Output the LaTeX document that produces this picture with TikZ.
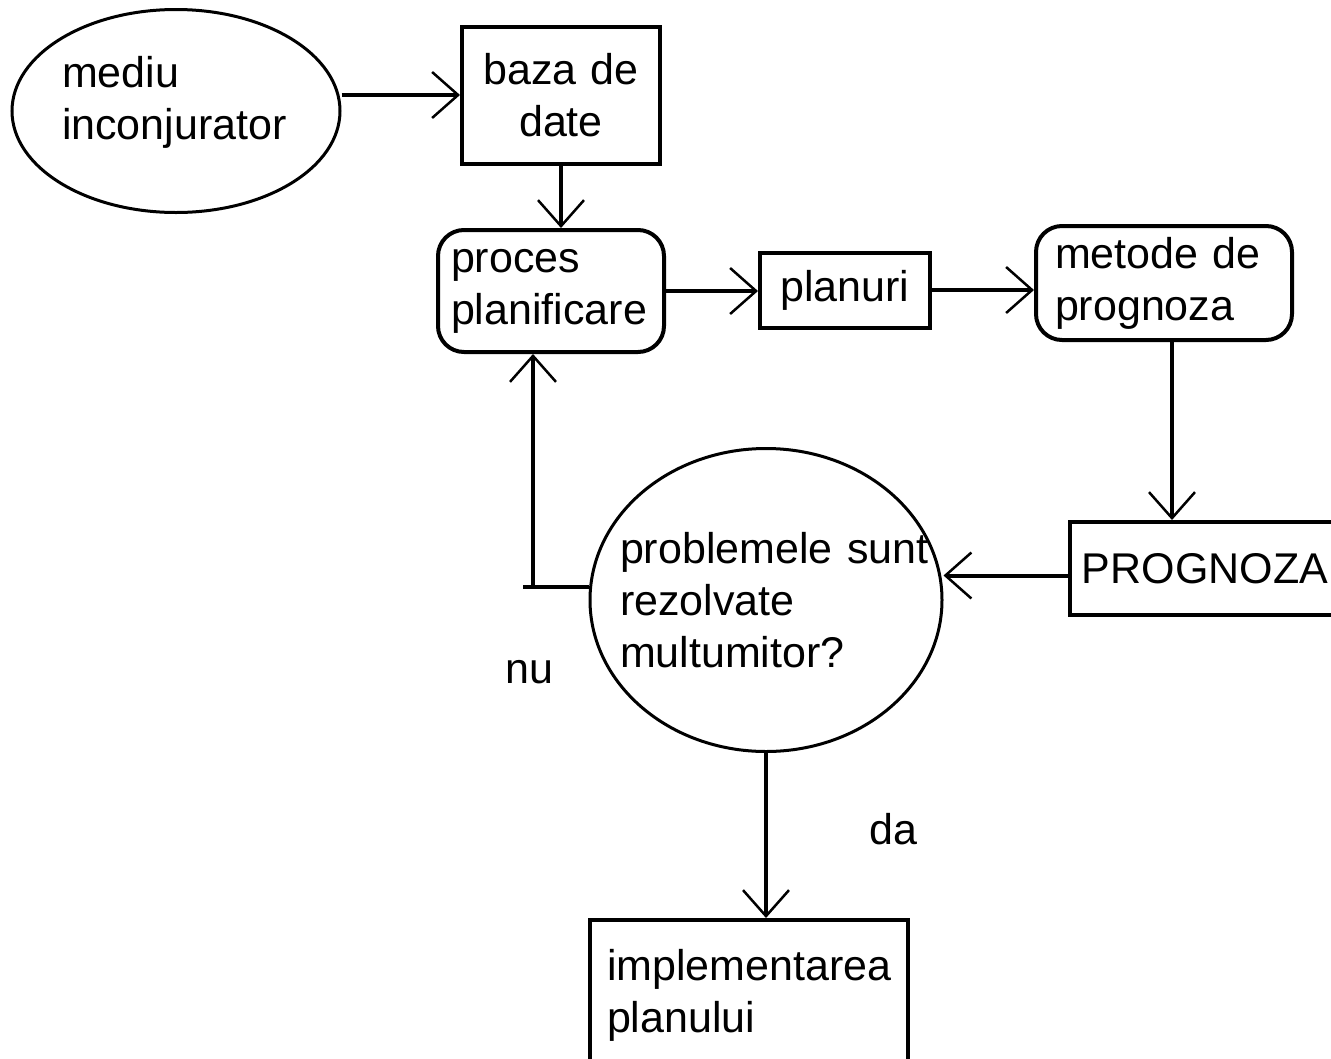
\documentclass[tikz,border=0pt]{standalone}
\usepackage{fontspec}
\setmainfont{Liberation Sans}
\usetikzlibrary{shapes.geometric,arrows.meta,calc}
\begin{document}
\begin{tikzpicture}[x=1pt,y=-1pt,
  txt/.style={font=\fontsize{43}{52}\selectfont, inner sep=0pt},
  boxr/.style={txt, draw, line width=4pt, rectangle},
  rbox/.style={boxr, rounded corners=26pt},
  oval/.style={txt, draw, line width=3pt, ellipse},
  arr/.style={line width=4pt, -{Straight Barb[length=26pt,width=46pt,line width=2.5pt]}},
  conn/.style={line width=4pt}]
\useasboundingbox (0,0) rectangle (1331,1058);
\clip (0,0) rectangle (1331,1058);
\fill[white] (0,0) rectangle (1331,1058);

\node[oval, minimum width=328pt, minimum height=203pt, text width=228pt, align=left] (env) at (176,111) {mediu\\inconjurator\rule[-27pt]{0pt}{0pt}};
\node[boxr, minimum width=198pt, minimum height=137pt, text width=170pt, align=center] (baza) at (561,95) {baza de\\date};
\node[rbox, minimum width=226pt, minimum height=122pt, text width=200pt, align=left] (proces) at (551,291) {proces\\planificare};
\node[boxr, minimum width=170pt, minimum height=75pt, align=center] (plan) at (845,290) {planuri};
\node[rbox, minimum width=256pt, minimum height=114pt, text width=218pt, align=left] (metode) at (1164,283) {metode de\\prognoza};
\node[boxr, minimum width=270pt, minimum height=93pt] (prog) at (1205,568.5) {PROGNOZA};
\node[oval, minimum width=352pt, minimum height=303pt, text width=292pt, inner xsep=-40pt, align=left] (circ) at (766,600) {\makebox[0pt][l]{problemele sunt}\\rezolvate\\multumitor?};
\node[boxr, minimum width=318pt, minimum height=150pt, text width=284pt, align=left] (impl) at (749,995) {implementarea\\planului};
\node[txt, anchor=base west] (nu) at (505,683) {nu};
\node[txt, anchor=base west] (da) at (869,844) {da};

\draw[arr] (env.east |- baza.west) -- (baza.west);
\draw[arr] (baza.south) -- (baza.south |- proces.north);
\draw[arr] (proces.east) -- (proces.east -| plan.west);
\draw[arr] (plan.east) -- (plan.east -| metode.west);
\draw[arr] ([xshift=8pt]metode.south) -- ([xshift=8pt]metode.south |- prog.north);
\draw[arr] ([yshift=-7pt]prog.west) -- ([yshift=-7pt]prog.west -| circ.east);
\coordinate (corner) at (533,587);
\draw[conn] ([yshift=13pt]circ.west) -- ([xshift=-10pt]corner);
\draw[arr] (corner) -- (corner |- proces.south);
\draw[arr] (circ.south) -- (circ.south |- impl.north);
\end{tikzpicture}
\end{document}
